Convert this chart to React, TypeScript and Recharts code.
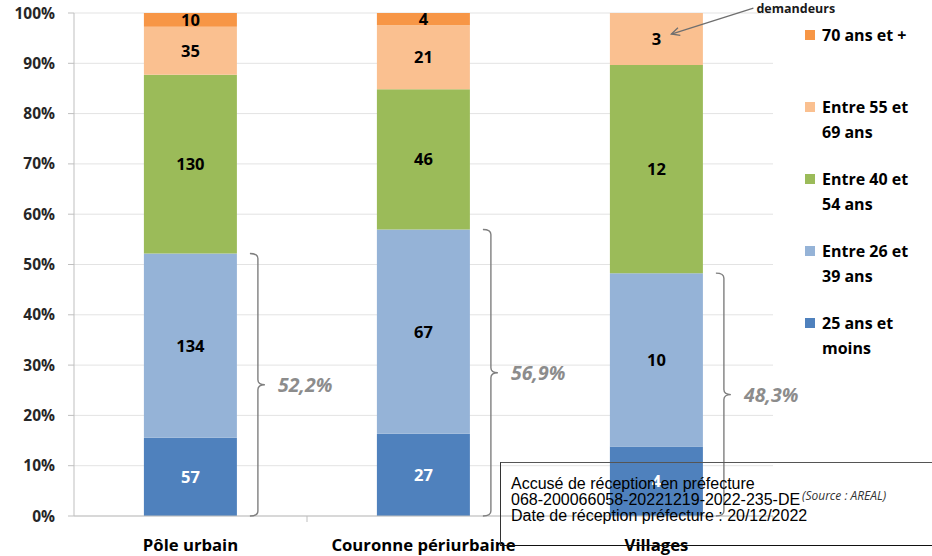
import React from "react"
import { BarChart, Bar, XAxis, YAxis, CartesianGrid, LabelList } from "recharts"

const categories = ["Pôle urbain", "Couronne périurbaine", "Villages"]
const moins25 = [57, 27, 4]
const de26a39 = [134, 67, 10]
const de40a54 = [130, 46, 12]
const de55a69 = [35, 21, 3]
const plus70 = [10, 4, 0]
// part des moins de 40 ans, as printed on the chart
const partMoins40 = ["52,2%", "56,9%", "48,3%"]
const yTicks = [0, 0.1, 0.2, 0.3, 0.4, 0.5, 0.6, 0.7, 0.8, 0.9, 1]

const FONT = "'Open Sans', Lato, sans-serif"

const series = [
  { key: "moins25", values: moins25, color: "#4F81BD", text: "#ffffff", legend: ["25 ans et", "moins"] },
  { key: "de26a39", values: de26a39, color: "#95B3D7", text: "#000000", legend: ["Entre 26 et", "39 ans"] },
  { key: "de40a54", values: de40a54, color: "#9BBB59", text: "#000000", legend: ["Entre 40 et", "54 ans"] },
  { key: "de55a69", values: de55a69, color: "#FAC090", text: "#000000", legend: ["Entre 55 et", "69 ans"] },
  { key: "plus70", values: plus70, color: "#F79646", text: "#000000", legend: ["70 ans et +"] },
]

const data = categories.map((name, i) => {
  const row: Record<string, string | number> = { name }
  series.forEach((s) => (row[s.key] = s.values[i]))
  return row
})

// eslint-disable-next-line @typescript-eslint/no-explicit-any
function rectOf(p: any) {
  const v = p.viewBox ?? p
  return {
    x: Number(v.x ?? p.x),
    y: Number(v.y ?? p.y),
    w: Number(v.width ?? p.width),
    h: Number(v.height ?? p.height),
  }
}

function valueLabel(values: number[], color: string, arrow = false) {
  // eslint-disable-next-line @typescript-eslint/no-explicit-any
  return (p: any) => {
    const { x, y, w, h } = rectOf(p)
    const i = p.index
    const v = typeof p.value === "number" ? p.value : values[i]
    if (!v) return null
    const cx = x + w / 2
    const cy = y + h / 2
    let annot = null
    if (arrow && i === categories.length - 1) {
      // "demandeurs" callout pointing at the label
      const tx = cx + 15, ty = cy - 5
      const sx = cx + 97, sy = cy - 31
      const a = Math.atan2(sy - ty, sx - tx)
      const L = 9
      const h1x = tx + L * Math.cos(a + 0.45), h1y = ty + L * Math.sin(a + 0.45)
      const h2x = tx + L * Math.cos(a - 0.45), h2y = ty + L * Math.sin(a - 0.45)
      annot = (
        <g>
          <line x1={sx} y1={sy} x2={tx} y2={ty} stroke="#6f6f6f" strokeWidth={1.3} />
          <polyline points={`${h1x},${h1y} ${tx},${ty} ${h2x},${h2y}`} fill="none" stroke="#6f6f6f" strokeWidth={1.3} />
          <text x={sx + 3} y={sy + 5} fontSize={12.5} fontWeight="bold" fill="#1a1a1a" fontFamily={FONT}>
            demandeurs
          </text>
        </g>
      )
    }
    return (
      <g>
        <text x={cx} y={cy} dy="0.36em" textAnchor="middle" fill={color} fontSize={16.5} fontWeight="bold" fontFamily={FONT}>
          {v}
        </text>
        {annot}
      </g>
    )
  }
}

// eslint-disable-next-line @typescript-eslint/no-explicit-any
function renderBrace(p: any) {
  const { x, y, w, h } = rectOf(p)
  const i = p.index
  const v2 = de26a39[i]
  const v1 = moins25[i]
  const top = y
  const bottom = y + (h * (v1 + v2)) / v2
  const mid = (top + bottom) / 2
  const bx = x + w + 21
  const d = [
    `M ${bx - 8} ${top}`,
    `Q ${bx} ${top} ${bx} ${top + 5}`,
    `L ${bx} ${mid - 5}`,
    `Q ${bx} ${mid} ${bx + 7} ${mid}`,
    `Q ${bx} ${mid} ${bx} ${mid + 5}`,
    `L ${bx} ${bottom - 5}`,
    `Q ${bx} ${bottom} ${bx - 8} ${bottom}`,
  ].join(" ")
  return (
    <g>
      <path d={d} fill="none" stroke="#7f7f7f" strokeWidth={1.4} />
      <text x={bx + 20} y={mid} dy="0.36em" fill="#8c8c8c" fontSize={19.5} fontWeight="bold" fontStyle="italic" fontFamily={FONT}>
        {partMoins40[i]}
      </text>
    </g>
  )
}

// category labels + tick marks between categories (Excel style)
// eslint-disable-next-line @typescript-eslint/no-explicit-any
function XTick(p: any) {
  const { x, y, payload, width, visibleTicksCount } = p
  const band = width && visibleTicksCount ? width / visibleTicksCount : 233
  return (
    <g>
      <line x1={x + band / 2} x2={x + band / 2} y1={y} y2={y + 6} stroke="#bfbfbf" />
      <text x={x} y={y + 35} textAnchor="middle" fill="#000" fontSize={16.7} fontWeight="bold" fontFamily={FONT}>
        {payload.value}
      </text>
    </g>
  )
}

export default function App() {
  return (
    <div style={{ position: "absolute", left: 0, top: 0, width: 932, height: 556, background: "#fff", fontFamily: FONT, overflow: "hidden" }}>
      <BarChart
        width={932}
        height={556}
        data={data}
        stackOffset="expand"
        barCategoryGap="30%"
        margin={{ top: 13, right: 159, left: 0, bottom: 0 }}
      >
        <CartesianGrid vertical={false} stroke="#e3e3e3" />
        <XAxis
          dataKey="name"
          height={40}
          interval={0}
          axisLine={{ stroke: "#bfbfbf" }}
          tickLine={false}
          tickSize={0}
          tickMargin={0}
          tick={<XTick />}
        />
        <YAxis
          width={74}
          domain={[0, 1]}
          ticks={yTicks}
          tickFormatter={(v) => `${Math.round(v * 100)}%`}
          tick={{ fill: "#262626", fontSize: 15.5, fontWeight: "bold", fontFamily: FONT }}
          tickSize={6}
          tickMargin={13}
          axisLine={{ stroke: "#bfbfbf" }}
          tickLine={{ stroke: "#bfbfbf" }}
        />
        {series.map((s) => (
          <Bar key={s.key} dataKey={s.key} stackId="a" fill={s.color} isAnimationActive={false}>
            <LabelList dataKey={s.key} content={valueLabel(s.values, s.text, s.key === "de55a69")} />
            {s.key === "de26a39" && <LabelList dataKey={s.key} content={renderBrace} />}
          </Bar>
        ))}
      </BarChart>

      {/* legend */}
      <div style={{ position: "absolute", left: 805, top: 23, width: 127 }}>
        {[...series].reverse().map((s) => (
          <div key={s.key} style={{ display: "flex", alignItems: "flex-start", height: 72 }}>
            <div style={{ width: 10, height: 10, background: s.color, marginTop: 7, marginRight: 7, flexShrink: 0 }} />
            <div style={{ fontSize: 16, fontWeight: "bold", lineHeight: "24.5px", color: "#000", whiteSpace: "nowrap" }}>
              {s.legend.map((l) => (
                <div key={l}>{l}</div>
              ))}
            </div>
          </div>
        ))}
      </div>

      {/* source */}
      <div style={{ position: "absolute", left: 802, top: 487, fontSize: 12, fontStyle: "italic", color: "#333", whiteSpace: "nowrap" }}>
        (Source : AREAL)
      </div>

      {/* stamp */}
      <div
        style={{
          position: "absolute",
          left: 500,
          top: 462,
          width: 460,
          height: 84,
          borderTop: "1.5px solid #555",
          borderLeft: "1.5px solid #333",
          borderBottom: "1.5px solid #111",
          boxSizing: "border-box",
          padding: "13px 0 0 10px",
          fontFamily: "'Liberation Sans', Arial, sans-serif",
          fontSize: 16,
          lineHeight: "16px",
          color: "#000",
          whiteSpace: "nowrap",
        }}
      >
        <div>Accusé de réception en préfecture</div>
        <div>068-200066058-20221219-2022-235-DE</div>
        <div>Date de réception préfecture : 20/12/2022</div>
      </div>
    </div>
  )
}
